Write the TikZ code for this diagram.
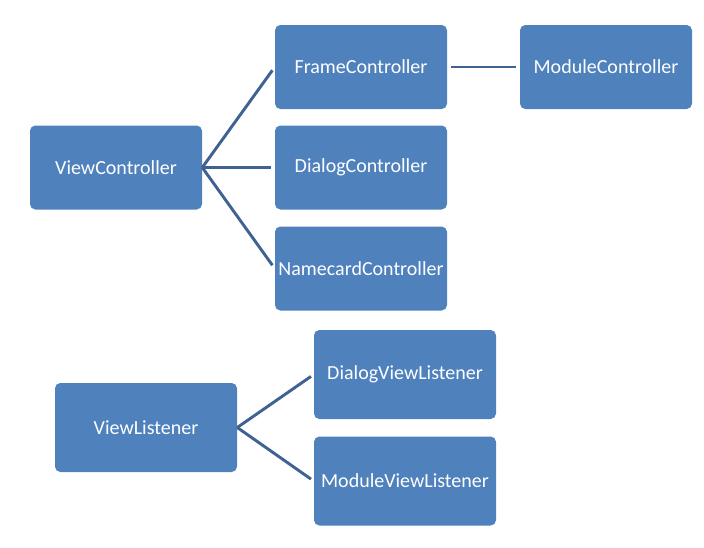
\documentclass[tikz,border=0pt]{standalone}
\usepackage{fontspec}
\setmainfont{Carlito}
\definecolor{boxblue}{RGB}{79,129,189}
\definecolor{lineblue}{RGB}{64,98,146}
\tikzset{
    every node/.style={rectangle, rounded corners=4pt, fill=boxblue, text=white, font=\fontsize{15}{18}\selectfont, inner sep=0mm},
    ctrl/.style={minimum width=129pt, minimum height=63pt},
    lstn/.style={minimum width=136.5pt, minimum height=66.75pt},
    link/.style={draw=lineblue, line width=2.2pt}
}

\begin{document}
\begin{tikzpicture}[x=0.75pt, y=-0.75pt]
    \useasboundingbox (0, 0) rectangle (704, 547);

    \node (view) [ctrl] at (116, 167.5) {ViewController};
    \node (frame) [ctrl] at (361, 67) {FrameController};
    \node (dialog) [ctrl] at (361, 167.5) {DialogController};
    \node (namecard) [ctrl] at (361, 268.5) {NamecardController};
    \node (module) [ctrl] at (606, 67) {ModuleController};

    \node (listener) [lstn] at (146, 427.5) {ViewListener};
    \node (dlglistener) [lstn] at (405, 374.5) {DialogViewListener};
    \node (modlistener) [lstn] at (405, 481) {ModuleViewListener};

    \draw[link, shorten >=3pt] (view.east) -- (frame.west);
    \draw[link, shorten >=3pt] (view.east) -- (dialog.west);
    \draw[link, shorten >=3pt] (view.east) -- (namecard.west);
    \draw[link, shorten >=2.5pt, shorten <=2.5pt] (frame.east) -- (module.west);

    \draw[link, shorten >=2.5pt] (listener.east) -- (dlglistener.west);
    \draw[link, shorten >=2.5pt] (listener.east) -- (modlistener.west);
\end{tikzpicture}
\end{document}
